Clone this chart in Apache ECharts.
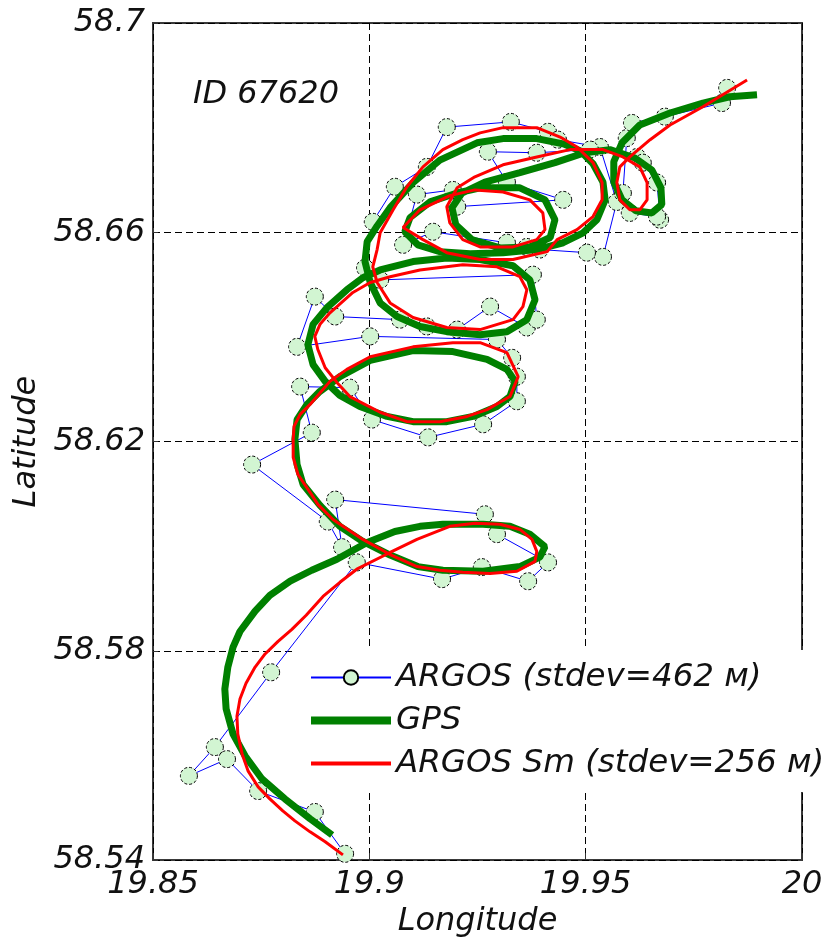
<!DOCTYPE html>
<html><head><meta charset="utf-8">
<script src="https://cdn.jsdelivr.net/npm/echarts@6/dist/echarts.min.js"></script>
<style>html,body{margin:0;padding:0;background:#fff}#c{width:827px;height:943px}</style>
</head><body><div id="c"></div>
<script>
const xTickLabels = ['19.85','19.9','19.95','20'];
const yTickLabels = ['58.54','58.58','58.62','58.66','58.7'];
const seriesNames = ['ARGOS (stdev=462 м)','GPS','ARGOS Sm (stdev=256 м)'];
const annotation = 'ID 67620';

const argosLon = [19.8944,19.8874,19.8743,19.8671,19.8583,19.8643,19.8773,19.8971,19.9168,19.9260,
19.9367,19.9413,19.9295,19.9267,19.8921,19.8937,19.8904,19.8729,19.8867,19.8840,
19.8955,19.9006,19.9136,19.9263,19.9341,19.9341,19.9330,19.9295,19.9002,19.8833,
19.8874,19.8921,19.9071,19.9133,19.9203,19.9279,19.9364,19.9387,19.9378,19.9025,
19.8990,19.9008,19.9059,19.9133,19.9179,19.9327,19.9413,19.9436,19.9533,19.9572,
19.9540,19.9503,19.9394,19.9364,19.9318,19.9147,19.9078,19.9110,19.9193,19.9203,
19.9448,19.9318,19.9274,19.9387,19.9510,19.9619,19.9632,19.9665,19.9672,19.9665,
19.9602,19.9586,19.9595,19.9607,19.9683,19.9815,19.9827];
const argosLat = [58.5412,58.5492,58.5532,58.5593,58.5561,58.5616,58.5759,58.5969,58.5937,58.5960,
58.5933,58.5969,58.6023,58.6061,58.6089,58.5998,58.6047,58.6156,58.6217,58.6305,
58.6303,58.6242,58.6208,58.6233,58.6277,58.6324,58.6360,58.6395,58.6401,58.6381,
58.6477,58.6439,58.6433,58.6420,58.6414,58.6458,58.6418,58.6433,58.6519,58.6509,
58.6532,58.6620,58.6687,58.6725,58.6801,58.6811,58.6792,58.6777,58.6763,58.6658,
58.6553,58.6561,58.6567,58.6572,58.6580,58.6601,58.6576,58.6672,58.6681,58.6649,
58.6662,58.6696,58.6754,58.6752,58.6758,58.6744,58.6733,58.6695,58.6624,58.6630,
58.6637,58.6675,58.6780,58.6809,58.6821,58.6847,58.6876];

const gpsLon = [19.8914,19.8863,19.8805,19.8752,19.8713,19.8685,19.8669,19.8666,19.8673,19.8685,
19.8701,19.8736,19.8770,19.8817,19.8867,19.8925,19.8995,19.9059,19.9117,19.9170,
19.9263,19.9325,19.9371,19.9406,19.9394,19.9348,19.9263,19.9170,19.9112,19.9048,
19.8985,19.8932,19.8886,19.8847,19.8833,19.8828,19.8833,19.8856,19.8886,19.8932,
19.9002,19.9101,19.9193,19.9272,19.9318,19.9337,19.9325,19.9295,19.9240,19.9179,
19.9101,19.9041,19.8978,19.8932,19.8898,19.8870,19.8858,19.8870,19.8902,19.8948,
19.8985,19.9025,19.9101,19.9179,19.9256,19.9332,19.9371,19.9383,19.9364,19.9318,
19.9256,19.9179,19.9117,19.9064,19.9025,19.9002,19.8990,19.8995,19.9018,19.9048,
19.9101,19.9163,19.9249,19.9309,19.9387,19.9448,19.9487,19.9517,19.9540,19.9545,
19.9526,19.9494,19.9448,19.9387,19.9309,19.9233,19.9163,19.9112,19.9082,19.9094,
19.9140,19.9203,19.9256,19.9348,19.9406,19.9429,19.9418,19.9371,19.9302,19.9237,
19.9200,19.9191,19.9214,19.9267,19.9348,19.9429,19.9498,19.9556,19.9614,19.9653,
19.9674,19.9676,19.9653,19.9616,19.9584,19.9565,19.9565,19.9584,19.9625,19.9695,
19.9771,19.9833,19.9896];
const gpsLat = [58.5448,58.5479,58.5517,58.5555,58.5599,58.5641,58.5689,58.5727,58.5769,58.5807,
58.5837,58.5876,58.5906,58.5933,58.5954,58.5975,58.6007,58.6028,58.6038,58.6042,
58.6042,58.6038,58.6023,58.5999,58.5979,58.5961,58.5952,58.5954,58.5961,58.5983,
58.6009,58.6038,58.6078,58.6118,58.6156,58.6204,58.6242,58.6271,58.6296,58.6324,
58.6355,58.6374,58.6372,58.6357,58.6338,58.6315,58.6286,58.6267,58.6248,58.6238,
58.6238,58.6248,58.6267,58.6288,58.6315,58.6347,58.6385,58.6424,58.6456,58.6490,
58.6513,58.6528,58.6544,58.6551,58.6548,58.6536,58.6509,58.6471,58.6433,58.6410,
58.6404,58.6410,58.6420,58.6439,58.6465,58.6504,58.6544,58.6582,58.6612,58.6647,
58.6695,58.6738,58.6771,58.6779,58.6779,58.6769,58.6756,58.6731,58.6696,58.6662,
58.6624,58.6599,58.6580,58.6567,58.6561,58.6559,58.6563,58.6576,58.6601,58.6628,
58.6658,58.6675,58.6685,58.6685,58.6662,58.6624,58.6590,58.6572,58.6570,58.6586,
58.6614,58.6647,58.6675,58.6696,58.6714,58.6733,58.6752,58.6758,58.6742,58.6719,
58.6685,58.6653,58.6637,58.6641,58.6662,58.6696,58.6735,58.6771,58.6805,58.6828,
58.6847,58.6859,58.6863];

const smLon = [19.8939,19.8898,19.8863,19.8828,19.8800,19.8770,19.8743,19.8720,19.8706,19.8696,
19.8694,19.8701,19.8715,19.8736,19.8759,19.8789,19.8821,19.8854,19.8893,19.8932,
19.8971,19.9048,19.9110,19.9186,19.9244,19.9302,19.9348,19.9376,19.9387,19.9383,
19.9341,19.9279,19.9216,19.9163,19.9110,19.9048,19.8985,19.8916,19.8881,19.8863,
19.8835,19.8824,19.8824,19.8826,19.8840,19.8863,19.8909,19.8948,19.9002,19.9101,
19.9193,19.9256,19.9318,19.9344,19.9325,19.9272,19.9226,19.9163,19.9087,19.9025,
19.8955,19.8925,19.8898,19.8881,19.8874,19.8886,19.8909,19.8962,19.9002,19.9048,
19.9117,19.9216,19.9295,19.9348,19.9364,19.9355,19.9332,19.9256,19.9179,19.9101,
19.9048,19.9018,19.9008,19.9018,19.9025,19.9055,19.9087,19.9124,19.9170,19.9216,
19.9256,19.9309,19.9387,19.9441,19.9480,19.9517,19.9538,19.9538,19.9517,19.9480,
19.9434,19.9411,19.9332,19.9256,19.9179,19.9124,19.9078,19.9117,19.9186,19.9244,
19.9309,19.9371,19.9401,19.9406,19.9387,19.9332,19.9256,19.9216,19.9186,19.9179,
19.9203,19.9244,19.9309,19.9387,19.9464,19.9540,19.9586,19.9625,19.9642,19.9642,
19.9625,19.9602,19.9579,19.9572,19.9579,19.9602,19.9649,19.9695,19.9771,19.9873];
const smLat = [58.5410,58.5435,58.5454,58.5475,58.5494,58.5517,58.5540,58.5570,58.5603,58.5641,
58.5675,58.5708,58.5738,58.5769,58.5794,58.5818,58.5841,58.5868,58.5904,58.5931,
58.5956,58.5988,58.6013,58.6038,58.6044,58.6042,58.6032,58.6013,58.5990,58.5971,
58.5952,58.5948,58.5950,58.5954,58.5961,58.5984,58.6013,58.6051,58.6080,58.6103,
58.6137,58.6170,58.6204,58.6229,58.6252,58.6271,58.6315,58.6338,58.6362,58.6381,
58.6389,58.6389,58.6370,58.6324,58.6286,58.6261,58.6248,58.6238,58.6238,58.6256,
58.6286,58.6313,58.6341,58.6376,58.6401,58.6424,58.6446,58.6485,58.6504,58.6515,
58.6528,58.6538,58.6534,58.6515,58.6490,58.6458,58.6433,58.6414,58.6418,58.6437,
58.6465,58.6504,58.6534,58.6567,58.6599,58.6643,58.6687,58.6725,58.6758,58.6777,
58.6790,58.6800,58.6800,58.6782,58.6763,58.6733,58.6695,58.6662,58.6630,58.6605,
58.6586,58.6563,58.6548,58.6548,58.6561,58.6586,58.6609,58.6643,58.6670,58.6681,
58.6677,58.6662,58.6637,58.6605,58.6586,58.6572,58.6572,58.6586,58.6618,58.6649,
58.6685,58.6706,58.6729,58.6744,58.6758,58.6758,58.6744,58.6725,58.6695,58.6662,
58.6643,58.6643,58.6662,58.6695,58.6725,58.6744,58.6777,58.6805,58.6840,58.6891];

const zip = (a, b) => a.map((v, i) => [v, b[i]]);
const FONT = "'DejaVu Sans', Verdana, sans-serif";
const TXT = '#111';
const txt = (size) => ({fontFamily: FONT, fontSize: size, fontStyle: 'italic', fontWeight: 'normal', color: TXT});
const fmt = (list) => (v) => { const s = String(+v.toFixed(2)); return list.includes(s) ? s : ''; };

const chart = echarts.init(document.getElementById('c'), null, {renderer: 'canvas'});
chart.setOption({
  animation: false,
  backgroundColor: '#fff',
  title: {text: annotation, left: 188, top: 74, textStyle: txt(32)},
  grid: {left: 153, right: 25, top: 23, bottom: 82, show: true, borderColor: '#3a3a3a', borderWidth: 2, backgroundColor: '#fff'},
  legend: {
    orient: 'vertical', left: 295, top: 650, padding: [11, 10, 12, 15],
    itemWidth: 80, itemHeight: 18, itemGap: 10, backgroundColor: '#fff',
    textStyle: txt(32.5), selectedMode: false,
    data: [
      {name: seriesNames[0]},
      {name: seriesNames[1], icon: 'path://M0,0M80,18M0,5H80V13H0Z'},
      {name: seriesNames[2], icon: 'path://M0,0M80,18M0,7H80V11H0Z'}
    ]
  },
  xAxis: {
    type: 'value', min: 19.85, max: 20, interval: 0.05,
    name: 'Longitude', nameLocation: 'middle', nameGap: 45, nameTextStyle: txt(32),
    axisLine: {show: false},
    axisTick: {show: true, inside: true, length: 7, lineStyle: {color: '#333', width: 1}},
    axisLabel: {margin: 9, formatter: fmt(xTickLabels), ...txt(32)},
    splitLine: {show: true, lineStyle: {color: '#000', width: 1, type: [7, 4]}}
  },
  yAxis: {
    type: 'value', min: 58.54, max: 58.7, interval: 0.04,
    name: 'Latitude', nameLocation: 'middle', nameGap: 105, nameTextStyle: txt(32),
    axisLine: {show: false},
    axisTick: {show: true, inside: true, length: 5, lineStyle: {color: '#333', width: 1}},
    axisLabel: {margin: 8, formatter: fmt(yTickLabels), ...txt(32)},
    splitLine: {show: true, lineStyle: {color: '#000', width: 1, type: [7, 4]}}
  },
  series: [
    {
      name: seriesNames[0], type: 'line', z: 2, silent: true,
      data: zip(argosLon, argosLat),
      symbol: 'circle', symbolSize: 17, showAllSymbol: true,
      lineStyle: {color: '#0000ff', width: 1},
      itemStyle: {color: '#d2f5d2', borderColor: '#000', borderWidth: 1, borderType: [3, 2]},
      emphasis: {disabled: true}
    },
    {
      name: seriesNames[1], type: 'line', z: 3, silent: true,
      data: zip(gpsLon, gpsLat), symbol: 'none',
      lineStyle: {color: '#008000', width: 7},
      itemStyle: {color: '#008000'},
      emphasis: {disabled: true}
    },
    {
      name: seriesNames[2], type: 'line', z: 4, silent: true,
      data: zip(smLon, smLat), symbol: 'none',
      lineStyle: {color: '#ff0000', width: 3},
      itemStyle: {color: '#ff0000'},
      emphasis: {disabled: true}
    }
  ]
});
</script></body></html>
